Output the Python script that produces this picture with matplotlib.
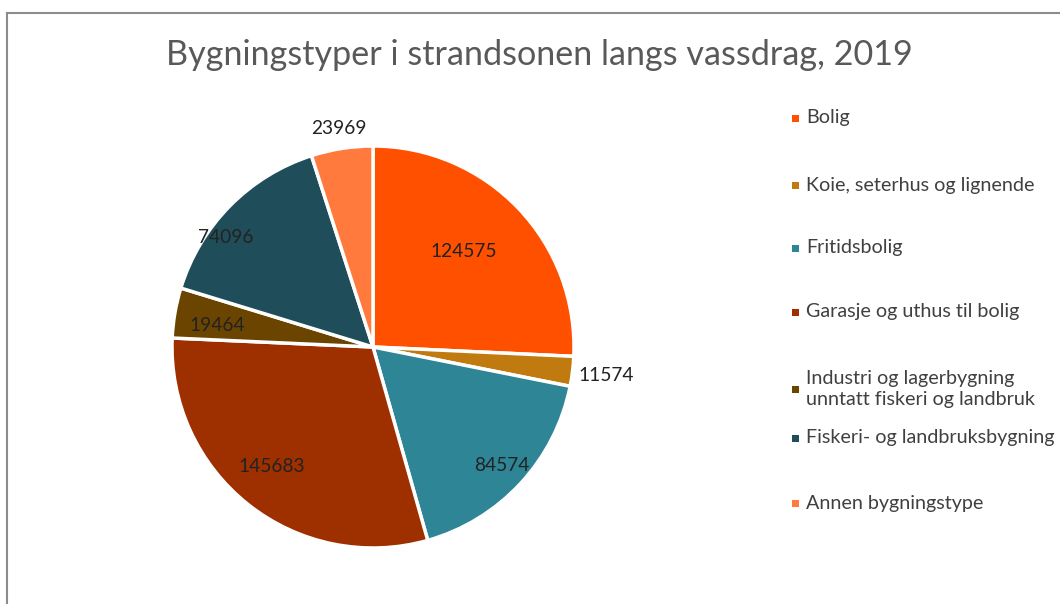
import matplotlib
matplotlib.use("Agg")
import matplotlib.pyplot as plt
import numpy as np
from matplotlib.patches import Rectangle

plt.rcParams['font.family'] = ['Lato', 'DejaVu Sans']

title = "Bygningstyper i strandsonen langs vassdrag, 2019"
categories = ["Bolig", "Koie, seterhus og lignende", "Fritidsbolig",
              "Garasje og uthus til bolig",
              "Industri og lagerbygning\nunntatt fiskeri og landbruk",
              "Fiskeri- og landbruksbygning", "Annen bygningstype"]
values = [124575, 11574, 84574, 145683, 19464, 74096, 23969]
colors = ["#FF5000", "#C07A10", "#2E8596", "#9E3000", "#6B4500", "#1F4E5A", "#FF7A3C"]

W, H = 1060, 604
fig = plt.figure(figsize=(W / 100, H / 100), dpi=100)

# chart border
fig.add_artist(plt.Line2D([7 / W, 7 / W], [0, 1 - 13 / H], color="#8C8C8C", lw=1.5))
fig.add_artist(plt.Line2D([7 / W, 1], [1 - 13 / H, 1 - 13 / H], color="#8C8C8C", lw=1.5))

cx, cy, r = 373, 347, 201
ax = fig.add_axes([(cx - r) / W, 1 - (cy + r) / H, 2 * r / W, 2 * r / H])
wedges, _ = ax.pie(values, colors=colors, startangle=90, counterclock=False,
                   wedgeprops=dict(edgecolor="white", linewidth=2.5))
ax.set_xlim(-1, 1)
ax.set_ylim(-1, 1)
ax.set_aspect("auto")

label_r = [0.655, 1.17, 0.87, 0.78, 0.78, 0.91, 1.10]
label_da = [3, 0, 0, -2, 2, 8, 0]
for w, v, lr, da in zip(wedges, values, label_r, label_da):
    ang = np.deg2rad((w.theta1 + w.theta2) / 2 + da)
    ax.text(lr * np.cos(ang), lr * np.sin(ang), f"{v}", ha="center", va="center",
            fontsize=13.8, color="#222222", clip_on=False)

fig.text(539 / W, 1 - 55 / H, title, ha="center", va="center",
         fontsize=24.6, color="#595959")

leg_y = [118, 185, 248, 312, 389, 438, 503]
for lab, col, y in zip(categories, colors, leg_y):
    fig.add_artist(Rectangle(((792) / W, 1 - (y + 4) / H), 7 / W, 7 / H,
                             transform=fig.transFigure, facecolor=col, edgecolor="none"))
    fig.text(806 / W, 1 - y / H, lab, ha="left", va="center", fontsize=14.2,
             color="#404040", linespacing=1.3)

fig.savefig("out.png", dpi=100)
